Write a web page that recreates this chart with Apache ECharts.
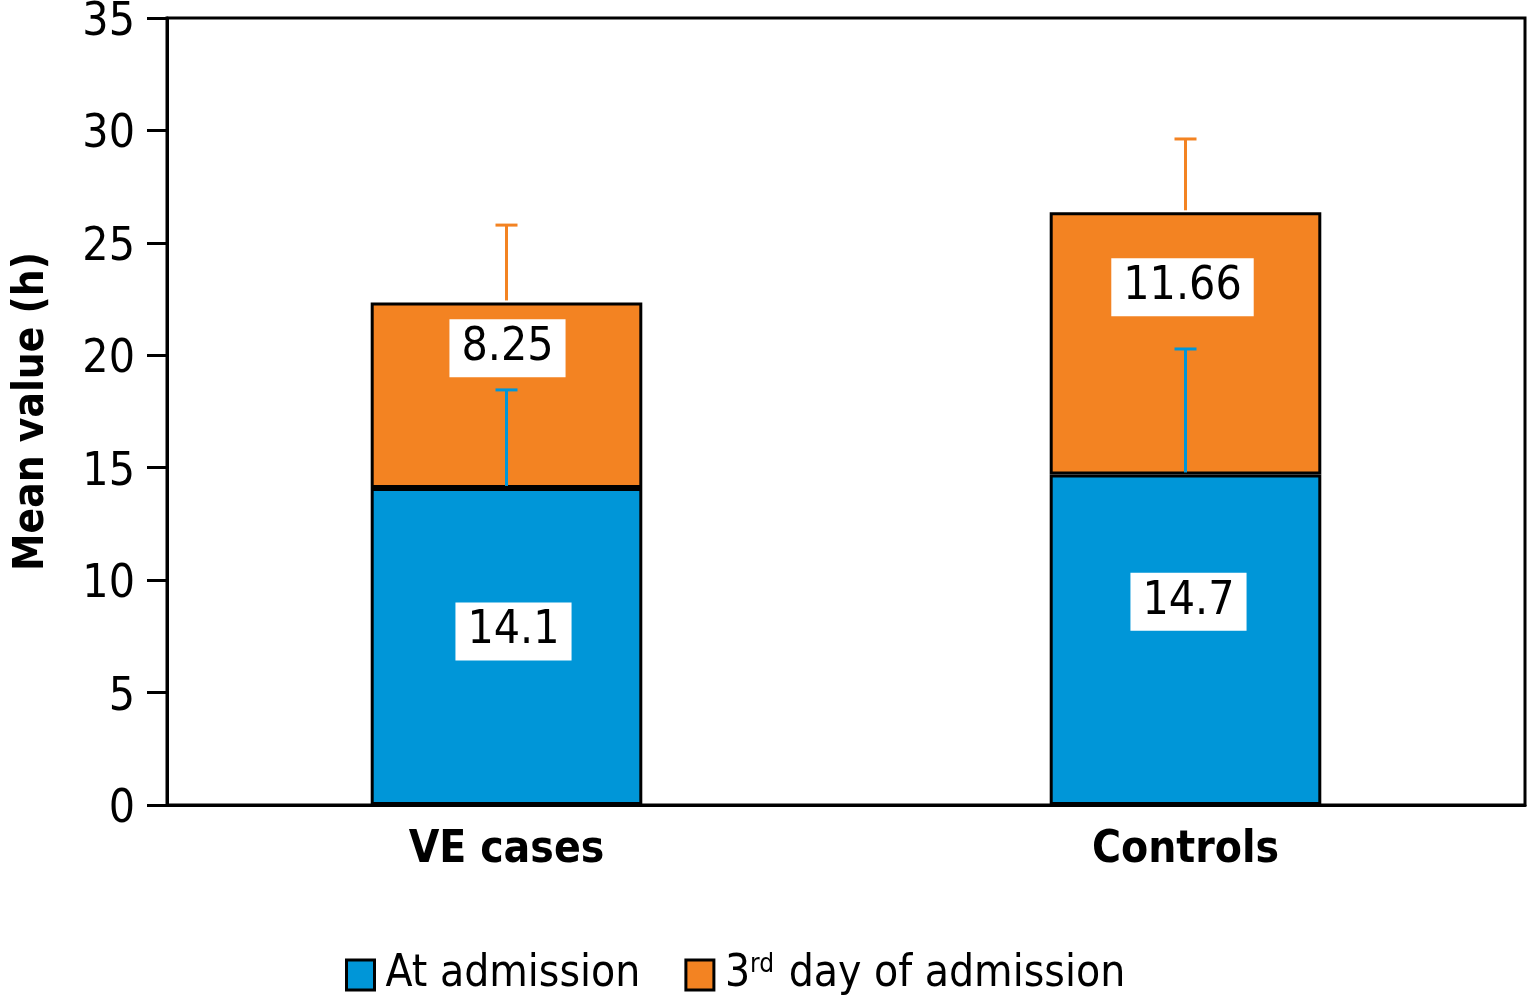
<!DOCTYPE html>
<html>
<head>
<meta charset="utf-8">
<script src="https://cdn.jsdelivr.net/npm/echarts@6/dist/echarts.min.js"></script>
<style>html,body{margin:0;padding:0;background:#fff;}#c{width:1527px;height:1004px;}</style>
</head>
<body>
<div id="c"></div>
<script>
const categories = ['VE cases', 'Controls'];
const atAdmission = [14.1, 14.7];
const day3 = [8.25, 11.66];
const atAdmissionErr = [4.36, 5.58];
const day3Err = [3.44, 3.26];
const seriesNames = ['At admission', '3rd day of admission'];
const yMin = 0, yMax = 35, yInterval = 5;

// label placement tweaks (pixels), kept separate from data
const admissionLabelOffset = [[7, -15], [3, -38]];
const day3LabelOffset = [[1, -47], [-3, -56]];

const FONT = "'Liberation Sans Narrow', 'DejaVu Sans Condensed', sans-serif";
const BLUE = '#0096d8';
const ORANGE = '#f38322';

const chart = echarts.init(document.getElementById('c'));

function barData(vals, offsets) {
  return vals.map((v, i) => ({ value: v, label: { offset: offsets[i] } }));
}

const errData = [];
categories.forEach((c, i) => {
  errData.push([i, atAdmission[i], atAdmission[i] + atAdmissionErr[i], 0]);
  errData.push([i, atAdmission[i] + day3[i], atAdmission[i] + day3[i] + day3Err[i], 1]);
});

const labelStyle = {
  show: true,
  position: 'inside',
  color: '#000',
  fontFamily: FONT,
  fontSize: 46,
  backgroundColor: '#fff',
  padding: [6, 12, 4, 12],
  lineHeight: 48
};

chart.setOption({
  animation: false,
  grid: { left: 167, right: 2, top: 18, bottom: 199, outerBoundsMode: 'none', containLabel: false, show: true, borderColor: '#000', borderWidth: 3, backgroundColor: 'transparent' },
  legend: {
    bottom: 2,
    left: 340,
    icon: 'rect',
    itemWidth: 28,
    itemHeight: 30,
    itemGap: 44,
    itemStyle: { borderColor: '#000', borderWidth: 3 },
    textStyle: {
      fontFamily: FONT, fontSize: 44, color: '#000', padding: [0, 0, 0, 6],
      rich: {
        n: { fontFamily: FONT, fontSize: 44, color: '#000' },
        sup: { fontFamily: FONT, fontSize: 26, color: '#000', verticalAlign: 'top', padding: [0, 2, 20, 0] }
      }
    },
    formatter: function (name) {
      if (name === seriesNames[1]) return '{n|3}{sup|rd}{n| day of admission}';
      return '{n|' + name + '}';
    },
    data: seriesNames
  },
  xAxis: {
    type: 'category',
    data: categories,
    axisLine: { lineStyle: { color: '#000', width: 3 } },
    axisTick: { show: false },
    axisLabel: { fontFamily: FONT, fontSize: 44, fontWeight: 'bold', color: '#000', margin: 24 }
  },
  yAxis: {
    type: 'value',
    min: yMin, max: yMax, interval: yInterval,
    name: 'Mean value (h)',
    nameLocation: 'middle',
    nameGap: 114,
    nameTextStyle: { fontFamily: FONT, fontSize: 42, fontWeight: 'bold', color: '#000' },
    splitLine: { show: false },
    axisLine: { show: true, lineStyle: { color: '#000', width: 3 } },
    axisTick: { show: true, length: 20, lineStyle: { color: '#000', width: 3 } },
    axisLabel: {
      fontFamily: FONT, fontSize: 46, color: '#000', margin: 32,
      formatter: '{t|{value}}',
      rich: { t: { fontFamily: FONT, fontSize: 46, color: '#000', padding: [10, 0, 0, 0] } }
    }
  },
  series: [
    {
      name: seriesNames[0], type: 'bar', stack: 'a', barWidth: '40%',
      itemStyle: { color: BLUE, borderColor: '#000', borderWidth: 3 },
      label: labelStyle,
      data: barData(atAdmission, admissionLabelOffset)
    },
    {
      name: seriesNames[1], type: 'bar', stack: 'a', barWidth: '40%',
      itemStyle: { color: ORANGE, borderColor: '#000', borderWidth: 3 },
      label: labelStyle,
      data: barData(day3, day3LabelOffset)
    },
    {
      type: 'custom',
      z: 10,
      silent: true,
      data: errData,
      encode: { x: 0, y: [1, 2] },
      renderItem: function (params, api) {
        const x = api.value(0);
        const p0 = api.coord([x, api.value(1)]);
        const p1 = api.coord([x, api.value(2)]);
        const color = api.value(3) === 0 ? BLUE : ORANGE;
        const half = 11;
        const style = { stroke: color, lineWidth: 3 };
        return {
          type: 'group',
          children: [
            { type: 'line', shape: { x1: p0[0], y1: p0[1] - 2, x2: p1[0], y2: p1[1] }, style: style },
            { type: 'line', shape: { x1: p1[0] - half, y1: p1[1], x2: p1[0] + half, y2: p1[1] }, style: style }
          ]
        };
      }
    }
  ]
});
</script>
</body>
</html>
